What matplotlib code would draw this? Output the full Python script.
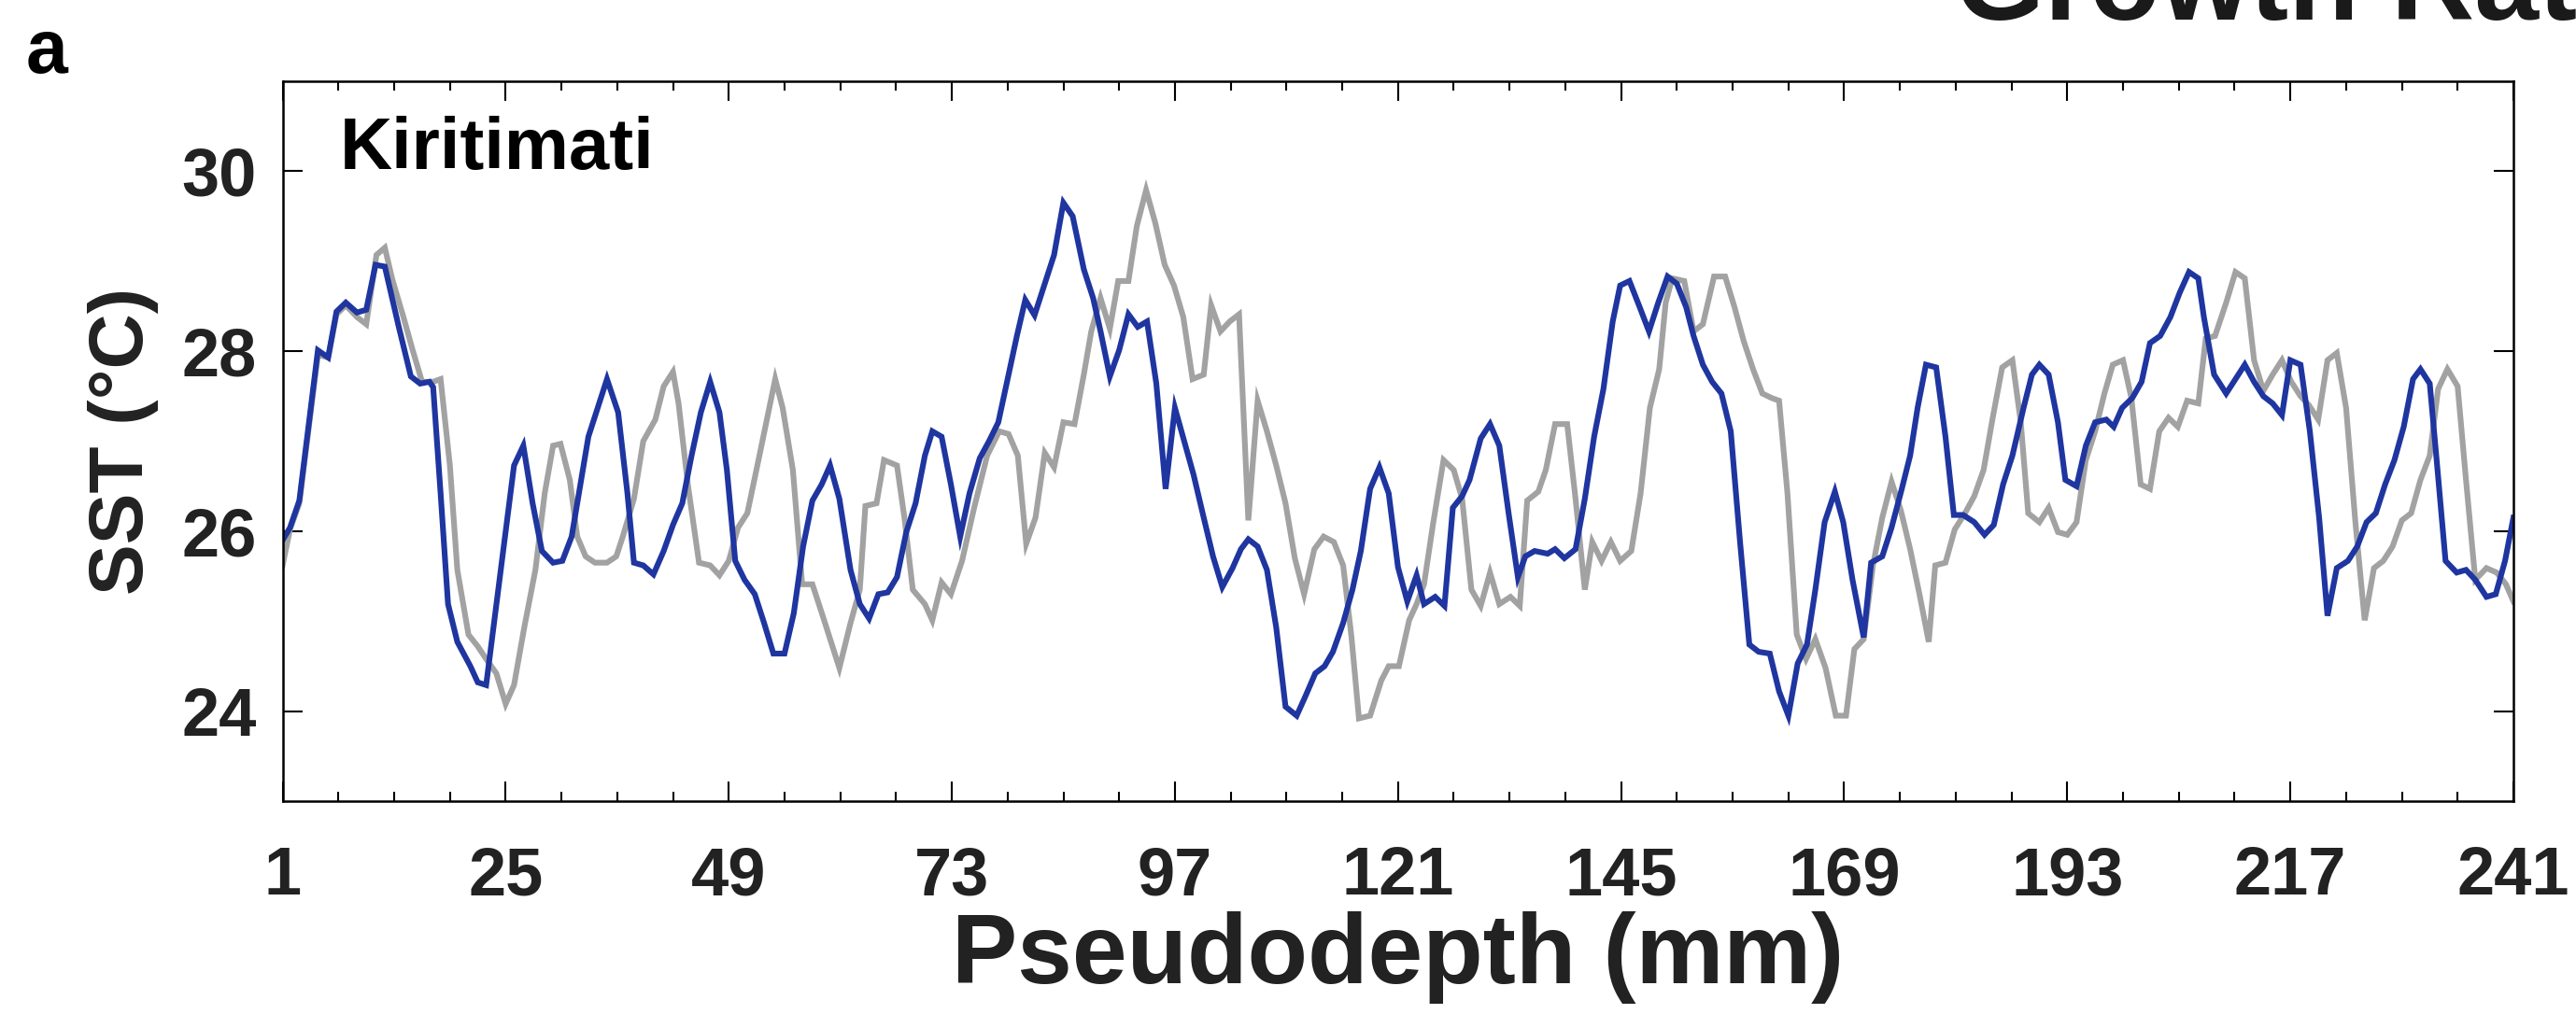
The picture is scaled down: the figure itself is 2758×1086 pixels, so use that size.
import matplotlib
matplotlib.use("Agg")
import matplotlib.pyplot as plt

plt.rcParams['font.family'] = ['Liberation Sans', 'DejaVu Sans']
plt.rcParams['font.weight'] = 'bold'

# pseudodepth (mm) / SST (degC)
depth_blue = [1.0, 1.8, 2.8, 4.8, 5.9, 6.8, 7.8, 9.0, 10.0, 11.0, 12.0, 13.5, 14.8, 15.8, 16.8, 17.2,
              18.0, 18.8, 19.8, 21.2, 22.0, 22.9, 25.9, 26.9, 27.9, 28.9, 30.1, 31.1, 32.1, 33.9,
              34.9, 35.9, 37.1, 38.1, 38.8, 39.8, 40.9, 42.0, 43.0, 44.0, 45.0, 46.0, 47.0, 48.0,
              48.8, 49.7, 50.7, 51.8, 52.8, 53.8, 55.0, 56.0, 57.0, 58.0, 59.0, 59.9, 60.9, 62.1,
              63.1, 64.1, 65.1, 66.1, 67.1, 68.1, 69.1, 70.1, 70.9, 71.9, 72.9, 73.9, 74.9, 76.0,
              77.0, 78.0, 79.0, 80.0, 80.9, 81.9, 83.0, 84.0, 85.0, 86.0, 87.2, 88.2, 89.0, 90.0,
              91.0, 92.0, 93.0, 94.0, 95.0, 96.0, 97.0, 98.0, 99.0, 100.1, 101.1, 102.1, 103.2,
              104.1, 104.9, 105.9, 106.9, 107.9, 108.9, 110.1, 111.1, 112.1, 113.1, 114.0, 115.1,
              116.1, 117.0, 118.0, 119.0, 120.0, 121.0, 122.0, 123.0, 123.8, 125.0, 126.0, 126.9,
              127.9, 128.7, 129.9, 130.9, 131.9, 132.9, 133.9, 134.7, 135.7, 137.1, 137.9, 138.9,
              140.1, 141.1, 142.1, 143.1, 144.1, 144.9, 145.9, 147.0, 148.0, 149.0, 150.0, 151.0,
              152.0, 152.8, 153.8, 154.8, 155.8, 156.8, 157.8, 158.8, 159.8, 161.0, 162.0, 163.0,
              164.0, 165.0, 165.9, 166.9, 168.0, 168.9, 169.9, 171.1, 171.9, 173.1, 174.1, 175.2,
              176.1, 176.9, 177.8, 178.9, 179.9, 180.8, 181.8, 183.0, 184.1, 185.1, 186.1, 187.1,
              188.3, 189.2, 190.0, 191.0, 192.0, 192.8, 194.0, 195.0, 196.0, 197.2, 198.0, 198.9,
              200.0, 201.0, 201.9, 203.0, 204.1, 205.1, 206.1, 207.1, 207.7, 208.8, 210.1, 211.1,
              212.1, 213.1, 214.1, 215.1, 216.1, 217.0, 218.1, 219.1, 220.1, 221.0, 222.0, 223.2,
              224.2, 225.2, 226.2, 227.2, 228.2, 229.2, 230.2, 231.0, 232.0, 232.7, 233.7, 234.9,
              235.9, 236.9, 238.1, 239.1, 240.1, 241.0]
sst_blue = [25.90, 26.04, 26.34, 28.01, 27.93, 28.44, 28.54, 28.43, 28.46, 28.96, 28.94, 28.27, 27.72,
            27.64, 27.66, 27.60, 26.42, 25.19, 24.77, 24.50, 24.32, 24.29, 26.73, 26.95, 26.31, 25.78,
            25.65, 25.67, 25.94, 27.05, 27.37, 27.69, 27.32, 26.42, 25.65, 25.62, 25.52, 25.78, 26.07,
            26.31, 26.84, 27.32, 27.66, 27.32, 26.68, 25.67, 25.46, 25.30, 24.98, 24.64, 24.64, 25.09,
            25.83, 26.34, 26.52, 26.73, 26.36, 25.57, 25.19, 25.03, 25.30, 25.32, 25.49, 25.99, 26.31,
            26.84, 27.11, 27.05, 26.52, 25.94, 26.42, 26.81, 27.00, 27.21, 27.69, 28.17, 28.57, 28.40,
            28.75, 29.07, 29.65, 29.50, 28.91, 28.59, 28.22, 27.72, 28.01, 28.41, 28.27, 28.33, 27.64,
            26.47, 27.37, 27.00, 26.63, 26.15, 25.72, 25.38, 25.59, 25.80, 25.91, 25.83, 25.57, 24.93,
            24.05, 23.95, 24.18, 24.42, 24.50, 24.66, 24.98, 25.35, 25.78, 26.47, 26.71, 26.42, 25.60,
            25.22, 25.51, 25.19, 25.27, 25.17, 26.26, 26.39, 26.57, 27.03, 27.19, 26.95, 26.20, 25.49,
            25.72, 25.78, 25.75, 25.80, 25.70, 25.80, 26.36, 27.05, 27.58, 28.33, 28.73, 28.78, 28.49,
            28.22, 28.54, 28.83, 28.75, 28.49, 28.17, 27.85, 27.66, 27.53, 27.11, 25.88, 24.74, 24.66,
            24.64, 24.22, 23.95, 24.53, 24.74, 25.35, 26.10, 26.44, 26.10, 25.46, 24.82, 25.65, 25.72,
            26.04, 26.47, 26.84, 27.37, 27.85, 27.82, 27.05, 26.18, 26.18, 26.10, 25.96, 26.07, 26.52,
            26.84, 27.37, 27.74, 27.85, 27.74, 27.21, 26.57, 26.50, 26.95, 27.21, 27.24, 27.16, 27.37,
            27.48, 27.66, 28.09, 28.17, 28.38, 28.65, 28.88, 28.81, 28.38, 27.74, 27.53, 27.69, 27.85,
            27.66, 27.50, 27.42, 27.29, 27.90, 27.85, 27.11, 26.15, 25.06, 25.59, 25.67, 25.83, 26.10,
            26.20, 26.52, 26.79, 27.16, 27.69, 27.80, 27.64, 26.84, 25.67, 25.54, 25.57, 25.46, 25.27,
            25.30, 25.67, 26.15]

depth_gray = [1.0, 1.8, 2.8, 4.8, 5.9, 6.8, 7.8, 9.0, 10.0, 11.1, 12.0, 12.8, 14.0, 15.0, 16.0, 17.2,
              18.0, 19.0, 19.8, 21.0, 22.0, 22.9, 24.0, 25.0, 25.9, 27.0, 28.2, 29.2, 30.1, 30.9,
              31.9, 32.7, 33.6, 34.6, 35.9, 36.9, 37.6, 38.8, 39.8, 41.1, 42.0, 43.0, 43.6, 44.6,
              45.8, 47.0, 48.0, 49.0, 50.0, 51.0, 52.3, 54.0, 54.8, 55.9, 56.9, 58.0, 59.2, 60.0,
              60.9, 62.1, 63.1, 63.7, 64.9, 65.7, 67.1, 67.9, 68.8, 70.1, 70.9, 71.9, 72.9, 74.1,
              75.4, 76.8, 78.1, 79.1, 80.1, 81.0, 82.0, 83.0, 84.0, 85.0, 86.2, 87.2, 88.0, 89.0,
              90.0, 90.9, 92.0, 92.9, 93.9, 94.9, 95.9, 96.9, 97.9, 98.9, 100.1, 100.9, 101.9,
              102.9, 103.9, 104.9, 105.9, 106.9, 107.9, 108.9, 109.9, 110.9, 112.0, 113.0, 114.1,
              115.1, 116.0, 116.8, 118.0, 119.2, 120.0, 121.1, 122.2, 123.0, 123.8, 124.8, 125.9,
              127.0, 127.9, 128.9, 129.9, 130.9, 131.9, 133.1, 134.1, 134.9, 136.1, 136.9, 137.9,
              139.2, 140.1, 141.1, 141.9, 142.9, 143.9, 144.9, 146.1, 147.1, 148.1, 149.1, 149.8,
              150.5, 151.8, 152.8, 153.8, 155.0, 156.2, 157.2, 158.2, 159.2, 160.2, 161.2, 162.0,
              162.9, 163.9, 164.9, 165.9, 167.0, 168.1, 169.2, 170.1, 171.1, 172.1, 173.1, 174.1,
              175.1, 176.1, 177.1, 178.1, 178.8, 179.9, 180.9, 182.0, 183.0, 184.0, 185.0, 186.0,
              187.1, 188.0, 188.8, 190.0, 191.0, 192.0, 193.0, 194.0, 195.0, 196.0, 197.0, 197.9,
              199.0, 199.9, 200.9, 201.9, 202.9, 203.9, 204.9, 205.9, 207.1, 207.9, 208.9, 210.1,
              211.1, 212.1, 213.1, 214.1, 215.1, 216.1, 217.1, 218.1, 219.0, 220.0, 221.0, 222.0,
              223.0, 224.0, 225.0, 226.0, 227.0, 228.0, 229.0, 230.0, 231.0, 232.0, 232.9, 233.9,
              235.0, 235.9, 236.9, 238.1, 239.2, 240.2, 241.0]
sst_gray = [25.62, 26.02, 26.31, 27.96, 27.93, 28.41, 28.51, 28.38, 28.30, 29.07, 29.15, 28.80, 28.38,
            28.01, 27.66, 27.66, 27.69, 26.73, 25.57, 24.85, 24.72, 24.58, 24.42, 24.08, 24.29, 24.93,
            25.57, 26.42, 26.95, 26.97, 26.57, 25.94, 25.72, 25.65, 25.65, 25.72, 25.94, 26.36, 27.00,
            27.24, 27.61, 27.77, 27.42, 26.52, 25.65, 25.62, 25.51, 25.67, 26.04, 26.20, 26.84, 27.69,
            27.37, 26.68, 25.41, 25.41, 25.03, 24.77, 24.48, 24.98, 25.35, 26.28, 26.31, 26.79, 26.73,
            26.15, 25.35, 25.19, 25.01, 25.43, 25.30, 25.67, 26.26, 26.84, 27.11, 27.08, 26.84, 25.86,
            26.15, 26.87, 26.71, 27.21, 27.19, 27.74, 28.22, 28.59, 28.25, 28.78, 28.78, 29.39, 29.79,
            29.42, 28.96, 28.73, 28.38, 27.69, 27.74, 28.51, 28.22, 28.33, 28.41, 26.12, 27.45, 27.11,
            26.73, 26.31, 25.70, 25.30, 25.80, 25.94, 25.88, 25.62, 24.82, 23.92, 23.95, 24.34, 24.50,
            24.50, 25.01, 25.19, 25.41, 26.10, 26.79, 26.68, 26.36, 25.35, 25.17, 25.54, 25.19, 25.27,
            25.17, 26.34, 26.44, 26.68, 27.19, 27.19, 26.36, 25.35, 25.88, 25.67, 25.88, 25.67, 25.78,
            26.42, 27.37, 27.80, 28.54, 28.81, 28.78, 28.22, 28.30, 28.83, 28.83, 28.49, 28.11, 27.80,
            27.53, 27.48, 27.45, 26.42, 24.85, 24.58, 24.80, 24.48, 23.95, 23.95, 24.69, 24.80, 25.62,
            26.15, 26.55, 26.23, 25.80, 25.30, 24.77, 25.62, 25.65, 26.02, 26.20, 26.39, 26.68, 27.27,
            27.82, 27.90, 27.21, 26.20, 26.10, 26.26, 25.99, 25.96, 26.10, 26.79, 27.11, 27.53, 27.85,
            27.90, 27.48, 26.52, 26.47, 27.11, 27.26, 27.16, 27.45, 27.42, 28.14, 28.17, 28.54, 28.88,
            28.81, 27.90, 27.56, 27.74, 27.90, 27.66, 27.50, 27.40, 27.24, 27.90, 27.98, 27.37, 26.10,
            25.01, 25.59, 25.67, 25.83, 26.12, 26.20, 26.57, 26.84, 27.58, 27.80, 27.61, 26.57, 25.46,
            25.59, 25.54, 25.41, 25.22]

xticks = list(range(1, 242, 24))
xminor = list(range(1, 242, 6))
yticks = [24, 26, 28, 30]

blue = '#1f35a0'
gray = '#a2a2a2'

fig = plt.figure(figsize=(27.58, 10.86), dpi=100)
ax = fig.add_axes([0.1097, 0.2099, 0.866, 0.710])

ax.plot(depth_gray, sst_gray, color=gray, lw=4.4, solid_joinstyle='miter')
ax.plot(depth_blue, sst_blue, color=blue, lw=4.4, solid_joinstyle='miter')

ax.set_xlim(1, 241)
ax.set_ylim(23, 31)
ax.set_xticks(xticks)
ax.set_xticks(xminor, minor=True)
ax.set_yticks(yticks)

ax.tick_params(which='both', direction='in', top=True, right=True, width=1.5, colors='black')
ax.tick_params(which='major', length=15)
ax.tick_params(which='minor', length=7.5)
ax.tick_params(axis='x', which='major', labelsize=52, pad=34, labelcolor='#222222')
ax.tick_params(axis='y', which='major', labelsize=52, pad=20, labelcolor='#222222')
for s in ax.spines.values():
    s.set_linewidth(1.8)

ax.set_xlabel('Pseudodepth (mm)', fontsize=76, fontweight='bold', color='#222222')
ax.xaxis.set_label_coords(0.5, -0.153)
ax.set_ylabel('SST (°C)', fontsize=59, fontweight='bold', color='#222222', va='center')
ax.yaxis.set_label_coords(-0.0716, 0.5)

ax.text(0.0255, 0.878, 'Kiritimati', transform=ax.transAxes, fontsize=56, fontweight='bold',
        color='black', va='baseline', ha='left')

fig.text(28 / 2758, 1 - 78 / 1086, 'a', fontsize=58, fontweight='bold', va='baseline', ha='left')
fig.text(2093 / 2758, 1 - 21 / 1086, 'Growth Rate', fontsize=89, fontweight='bold',
         va='baseline', ha='left', color='#1a1a1a')

fig.savefig('out.png', dpi=100)
